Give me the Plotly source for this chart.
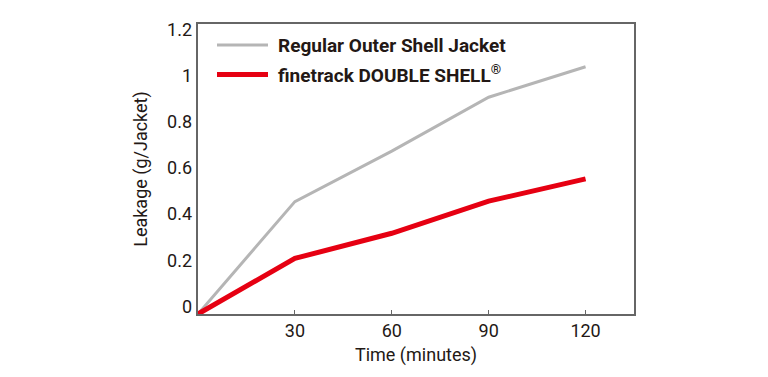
import plotly.graph_objects as go

minutes = [0, 30, 60, 90, 120]
regular_leak = [0, 0.465, 0.674, 0.897, 1.023]
double_leak = [0, 0.230, 0.334, 0.467, 0.559]
series_names = ["Regular Outer Shell Jacket", "finetrack DOUBLE SHELL<sup>®</sup>"]
series_colors = ["#b5b5b5", "#e60012"]
series_widths = [3, 5]
x_ticks = [30, 60, 90, 120]
y_ticks = [0, 0.2, 0.4, 0.6, 0.8, 1.0, 1.2]
y_ticktext = ["0", "0.2", "0.4", "0.6", "0.8", "1", "1.2"]

TXT = "#231815"
FONT = "Roboto"

fig = go.Figure()
for ys, name, col, w in zip([regular_leak, double_leak], series_names, series_colors, series_widths):
    fig.add_trace(go.Scatter(x=minutes, y=ys, mode="lines", name=name,
                             line=dict(color=col, width=w), showlegend=False))

# manual legend (paper coords of plot area: x 198..634, y 314.5..24.5 on the page)
leg_y = [(314.5 - 45.5) / 290, (314.5 - 75) / 290]
for i, (name, col, w) in enumerate(zip(series_names, series_colors, series_widths)):
    fig.add_shape(type="line", xref="paper", yref="paper",
                  x0=(217 - 198) / 436, x1=(268 - 198) / 436, y0=leg_y[i], y1=leg_y[i],
                  line=dict(color=col, width=w))
    fig.add_annotation(xref="paper", yref="paper", x=(276 - 198) / 436, y=leg_y[i],
                       text="<b>%s</b>" % name, showarrow=False,
                       xanchor="left", yanchor="middle",
                       font=dict(family=FONT, size=19, color=TXT))

# page body has an 8px margin, so the figure is 8px smaller and shifted
fig.update_layout(
    width=760, height=369,
    margin=dict(l=190, r=134, t=16, b=63),
    paper_bgcolor="white", plot_bgcolor="white",
    font=dict(family=FONT, size=18, color=TXT),
    xaxis=dict(range=[0, 135], tickvals=x_ticks, ticks="inside", ticklen=4,
               tickcolor="#666", showline=True, linecolor="#666", linewidth=1.5,
               mirror=True, showgrid=False, zeroline=False, automargin=False,
               title=dict(text="Time (minutes)", standoff=8, font=dict(size=18)),
               tickfont=dict(size=18)),
    yaxis=dict(range=[0, 1.2], showline=True, linecolor="#666", linewidth=1.5,
               mirror=True, showgrid=False, zeroline=False, showticklabels=False,
               ticks="", automargin=False),
    yaxis2=dict(overlaying="y", side="left", range=[-0.0325, 1.224],
                tickvals=y_ticks, ticktext=y_ticktext, ticks="", showline=False,
                showgrid=False, zeroline=False, tickfont=dict(size=18),
                ticklabelstandoff=5, automargin=False,
                title=dict(text="Leakage (g/Jacket)", standoff=14, font=dict(size=18))),
)
fig.add_trace(go.Scatter(x=[None], y=[None], yaxis="y2", showlegend=False, hoverinfo="skip"))

fig.write_html("out.html")
